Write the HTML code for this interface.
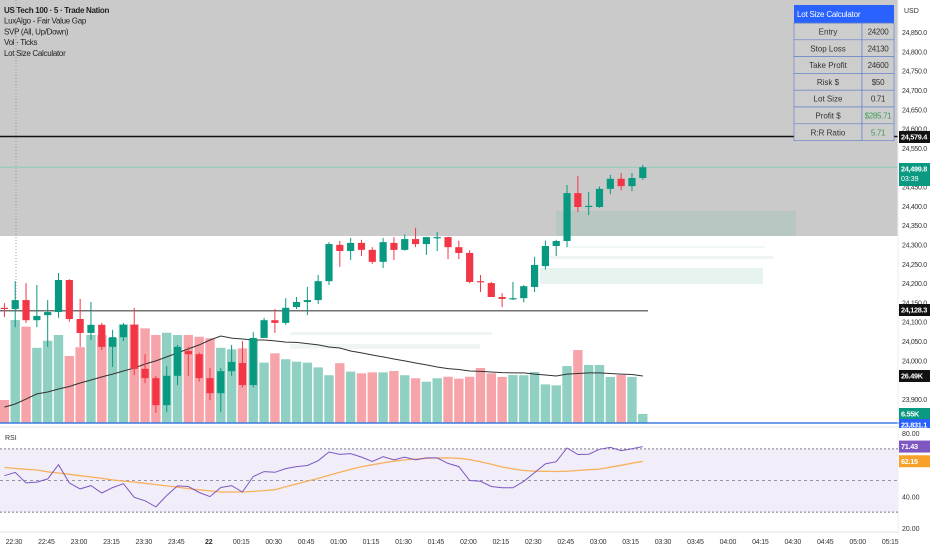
<!DOCTYPE html>
<html><head><meta charset="utf-8"><style>
html,body{margin:0;padding:0;background:#fff;width:932px;height:550px;overflow:hidden}
svg{display:block}
text{font-family:"Liberation Sans",sans-serif}
</style></head><body>
<svg id="c" width="932" height="550" viewBox="0 0 932 550"></svg>
<script>
const opens=[24136,24133,24156,24104,24117,24125,24208,24107,24071,24092,24035,24060,24092,23978,23954,23884,23960,24024,24016,23954,23915,23972,23993,23936,24058,24104,24097,24138,24151,24156,24205,24299,24283,24304,24286,24255,24304,24286,24314,24301,24318,24319,24293,24278,24205,24200,24164,24160,24161,24190,24244,24296,24309,24433,24397,24397,24444,24470,24451,24472];
const highs=[24148,24205,24200,24195,24156,24226,24210,24159,24151,24097,24079,24097,24136,24016,23960,23985,24040,24035,24020,23980,23980,24040,24050,24073,24110,24133,24161,24164,24190,24221,24306,24309,24317,24312,24293,24317,24319,24326,24343,24320,24332,24320,24310,24285,24221,24203,24174,24203,24195,24268,24310,24312,24454,24477,24436,24450,24480,24485,24485,24506];
const lows=[24112,24086,24097,24086,24035,24110,24100,24035,24053,24027,23983,24050,23962,23941,23864,23866,23936,23960,23945,23897,23866,23960,23930,23930,24070,24071,24092,24133,24117,24146,24195,24242,24260,24270,24250,24239,24260,24284,24293,24273,24283,24262,24262,24200,24177,24164,24138,24156,24150,24177,24235,24270,24293,24384,24376,24395,24430,24440,24438,24467];
const closes=[24133,24156,24104,24115,24125,24208,24107,24071,24092,24035,24060,24092,23978,23954,23884,23960,24035,24016,23954,23915,23972,23996,23936,24058,24104,24097,24136,24151,24156,24205,24301,24283,24304,24286,24255,24306,24286,24314,24301,24319,24319,24293,24278,24203,24203,24164,24159,24161,24192,24247,24296,24309,24433,24397,24400,24444,24470,24451,24472,24499.8];
const volumes=[13.9,55.9,52.4,41.3,45,48,37,41.6,48,48,46.4,53.6,53.6,51.5,48,49.2,48,48,47.1,46.3,41.3,40.5,41,45.4,33.5,38.4,35.3,34,33.5,31,26.9,33.2,28.8,27.9,28.4,28.4,29.1,26.9,25.3,23.5,25.3,26.1,25.1,26.1,30.7,27.9,26,27,26.9,28.6,22.1,21.6,31.7,40.1,32.3,32.3,26,27,26,6.55];
const volMA=[10.2,11.8,14.4,17.1,18.1,19.7,21,22.8,24.4,26,27.5,29.1,30.7,32.8,34.4,36.5,38.6,40.7,42.8,45.4,47.5,46.4,45.9,45.4,45.4,44.9,44.3,44.1,43.5,42.8,41.7,41.2,39.6,38.6,37.5,36.5,35.4,34.4,33.3,32.3,31.2,30.4,29.9,29.1,28.9,28.6,28.3,28.1,28.1,27.5,27,26.5,27.5,27.8,28.1,28.1,27.8,27.5,27.3,26.49];
const rsi=[53,55.1,48.5,49,51,60,48.5,44.7,46.8,42.1,45.5,48,39.4,37.2,33.3,40.5,46.6,46.2,42.4,39.8,45.6,46.8,42.7,52.5,55.6,55.2,57.5,58.8,59.5,62.5,68,66.5,67,64.8,62,65,63,64.7,63,64.3,64.3,60.8,58.8,50,49.5,46.2,45.4,45.4,49.5,55,60.5,61.9,70.5,66.4,66.6,69.7,70.9,68.9,70.1,71.43];
const rsiMA=[58.3,57.6,57.1,56.6,55.5,54.7,53.9,53,52.2,51.4,50.4,49.6,49,48.2,47.4,46.6,45.8,44.9,44.1,43.4,42.7,42.7,42.7,43.1,43.6,44.2,46,47.8,49.6,51.3,53.3,55.2,57,58.7,59.9,61.1,62.2,63,63.6,64,64.2,64.3,64,63.2,61.9,60.3,58.5,57.3,56.3,55.9,55.8,55.7,55.9,56.3,56.8,57.2,58.4,59.6,60.9,62.15];
const priceTicks=[24850,24800,24750,24700,24650,24600,24550,24450,24400,24350,24300,24250,24200,24150,24100,24050,24000,23900];
const rsiTicks=[80,40,20];
const timeLabels=["22:30","22:45","23:00","23:15","23:30","23:45","22","00:15","00:30","00:45","01:00","01:15","01:30","01:45","02:00","02:15","02:30","02:45","03:00","03:15","03:30","03:45","04:00","04:15","04:30","04:45","05:00","05:15"];
const tableRows=[["Entry","24200"],["Stop Loss","24130"],["Take Profit","24600"],["Risk $","$50"],["Lot Size","0.71"],["Profit $","$285.71"],["R:R Ratio","5.71"]];

const NS="http://www.w3.org/2000/svg";
const svg=document.getElementById('c');
function el(tag,attrs,parent){const e=document.createElementNS(NS,tag);for(const k in attrs)e.setAttribute(k,attrs[k]);(parent||svg).appendChild(e);return e;}
const X=i=>4.4+i*10.82;
const Y=p=>32+(24850-p)*0.3863;
const VY=v=>426.5-v*1.906;
const RY=r=>433+(80-r)*1.583;
const TX=i=>14+i*32.45;

// gray zone
let g=el('rect',{x:0,y:0,width:898,height:236,fill:'#cacaca'});

// FVG boxes
const fv=[[556,211,240,25,'#b8c7c1'],[540,268,223,16,'#e6f3ee'],[545,256,228,3,'#eef6f3'],[290,332,202,3,'#eef5f2'],[290,344,190,5,'#eef5f2'],[565,246,200,2,'#f1f7f5']];
fv.forEach(b=>{const r=el('rect',{x:b[0],y:b[1],width:b[2],height:b[3],fill:b[4]});

});
// dotted vertical
let dv=el('line',{x1:16,y1:0,x2:16,y2:310,stroke:'#9a9a9a','stroke-width':1,'stroke-dasharray':'1,2'});

// clip main pane
const defs=el('defs',{});const cp=el('clipPath',{id:'mp'},defs);el('rect',{x:0,y:0,width:898,height:423},cp);
const vg=el('g',{'clip-path':'url(#mp)'});
volumes.forEach((v,i)=>{const up=closes[i]>=opens[i];
const r=el('rect',{x:X(i)-4.7,y:VY(v),width:9.4,height:426.5-VY(v),fill:up?'#8fd0c2':'#f6a3a9'},vg);

});
const maPts=volMA.map((v,i)=>X(i).toFixed(1)+','+VY(v).toFixed(1)).join(' ');
let ml=el('polyline',{points:maPts,fill:'none',stroke:'#333','stroke-width':1});

// horizontal lines
let h1=el('line',{x1:0,y1:Y(24579.4),x2:898,y2:Y(24579.4),stroke:'#111','stroke-width':1.5});

let h2=el('line',{x1:0,y1:Y(24499.8),x2:898,y2:Y(24499.8),stroke:'#8cc9b8','stroke-width':1});

let h3=el('line',{x1:0,y1:Y(24128.3),x2:648,y2:Y(24128.3),stroke:'#444','stroke-width':1.2});

let h4=el('line',{x1:0,y1:423,x2:932,y2:423,stroke:'#3d7be0','stroke-width':1.5});

// candles
opens.forEach((o,i)=>{const c=closes[i];const up=c>=o;const col=up?'#089981':'#f23645';
const w=el('line',{x1:X(i),y1:Y(highs[i]),x2:X(i),y2:Y(lows[i]),stroke:col,'stroke-width':1});


const top=Y(Math.max(o,c)),bot=Y(Math.min(o,c));
const b=el('rect',{x:X(i)-3.6,y:top,width:7.2,height:Math.max(1.2,bot-top),fill:col});

});
// legend
const leg=["US Tech 100 · 5 · Trade Nation","LuxAlgo - Fair Value Gap","SVP (All, Up/Down)","Vol · Ticks","Lot Size Calculator"];
leg.forEach((t,i)=>{const tx=el('text',{x:4,y:13+i*10.7,'font-size':8,fill:'#222','font-weight':i==0?'bold':'normal','letter-spacing':'-0.3'});tx.textContent=t;

});
// table
const tg=el('g',{});
el('rect',{x:794,y:5,width:100,height:18,fill:'#2962ff'},tg);
let th=el('text',{x:797,y:17,'font-size':8,fill:'#fff','letter-spacing':'-0.2'},tg);th.textContent="Lot Size Calculator";

tableRows.forEach((r,i)=>{const y=23+i*16.8;
el('rect',{x:794,y:y,width:68,height:16.8,fill:'#cdcdcd',stroke:'#5a7bc8','stroke-width':0.6},tg);
el('rect',{x:862,y:y,width:32,height:16.8,fill:'#cdcdcd',stroke:'#5a7bc8','stroke-width':0.6},tg);
const a=el('text',{x:828,y:y+11.5,'font-size':8,fill:'#333','text-anchor':'middle'},tg);a.textContent=r[0];


const b=el('text',{x:878,y:y+11.5,'font-size':8,fill:(i>=5?'#3f9b5a':'#333'),'text-anchor':'middle','letter-spacing':'-0.3'},tg);b.textContent=r[1];

});
el('line',{x1:794,y1:23,x2:894,y2:23,stroke:'#5a7bc8','stroke-width':0.8},tg);
// separators
el('line',{x1:0,y1:427,x2:932,y2:427,stroke:'#e0e3eb','stroke-width':1});
el('line',{x1:0,y1:532,x2:932,y2:532,stroke:'#e0e3eb','stroke-width':1});
el('line',{x1:898,y1:0,x2:898,y2:532,stroke:'#eceef2','stroke-width':1});
// RSI pane
let band=el('rect',{x:0,y:RY(70),width:898,height:RY(30)-RY(70),fill:'#f1eef9'});

[70,50,30].forEach(v=>{const l=el('line',{x1:0,y1:RY(v),x2:898,y2:RY(v),stroke:'#787b86','stroke-width':v==50?0.7:1,'stroke-dasharray':v==50?'3,3':'2,2'});

});
let rl=el('text',{x:5,y:440,'font-size':7,fill:'#333'});rl.textContent="RSI";

let rma=el('polyline',{points:rsiMA.map((v,i)=>X(i).toFixed(1)+','+RY(v).toFixed(1)).join(' '),fill:'none',stroke:'#f7b15c','stroke-width':1.3});

let rln=el('polyline',{points:rsi.map((v,i)=>X(i).toFixed(1)+','+RY(v).toFixed(1)).join(' '),fill:'none',stroke:'#7e57c2','stroke-width':1});

// axis
let ax=el('rect',{x:899,y:0,width:33,height:550,fill:'#fff'});
let usd=el('text',{x:904,y:13,'font-size':7,fill:'#333'});usd.textContent="USD";
priceTicks.forEach(p=>{const t=el('text',{x:902,y:Y(p)+3,'font-size':7,fill:'#333','letter-spacing':'-0.3'});t.textContent=p.toLocaleString('en-US',{minimumFractionDigits:1});

});
rsiTicks.forEach(r=>{const t=el('text',{x:902,y:RY(r)+3,'font-size':7,fill:'#333'});t.textContent=r.toFixed(2);

});
function tag(y,h,bg,txt,name,txt2){const r=el('rect',{x:899,y:y,width:31,height:h,fill:bg});
const t=el('text',{x:901,y:y+8.5,'font-size':7.3,fill:'#fff','font-weight':'bold','letter-spacing':'-0.3'});t.textContent=txt;
if(txt2){const t2=el('text',{x:901,y:y+18,'font-size':7,fill:'#fff'});t2.textContent=txt2;}}
tag(131,12,'#111','24,579.4','tp-price-tag');
tag(163,23,'#0b9981','24,499.8','last-price-tag','03:39');
tag(304,12,'#111','24,128.3','stop-price-tag');
tag(370,12,'#111','26.49K','volume-ma-tag');
tag(408,11,'#0b9981','6.55K','volume-tag');
tag(419,9,'#2962ff','23,831.1','blue-level-tag');
tag(RY(71.43)-6,12,'#7e57c2','71.43','rsi-value-tag');
tag(RY(62.15)-6,12,'#f7a12a','62.15','rsi-ma-tag');
// time axis
timeLabels.forEach((l,i)=>{const t=el('text',{x:TX(i),y:544,'font-size':7,fill:'#333','text-anchor':'middle','letter-spacing':'-0.2','font-weight':l=='22'?'bold':'normal'});t.textContent=l;

});
</script>
</body></html>
